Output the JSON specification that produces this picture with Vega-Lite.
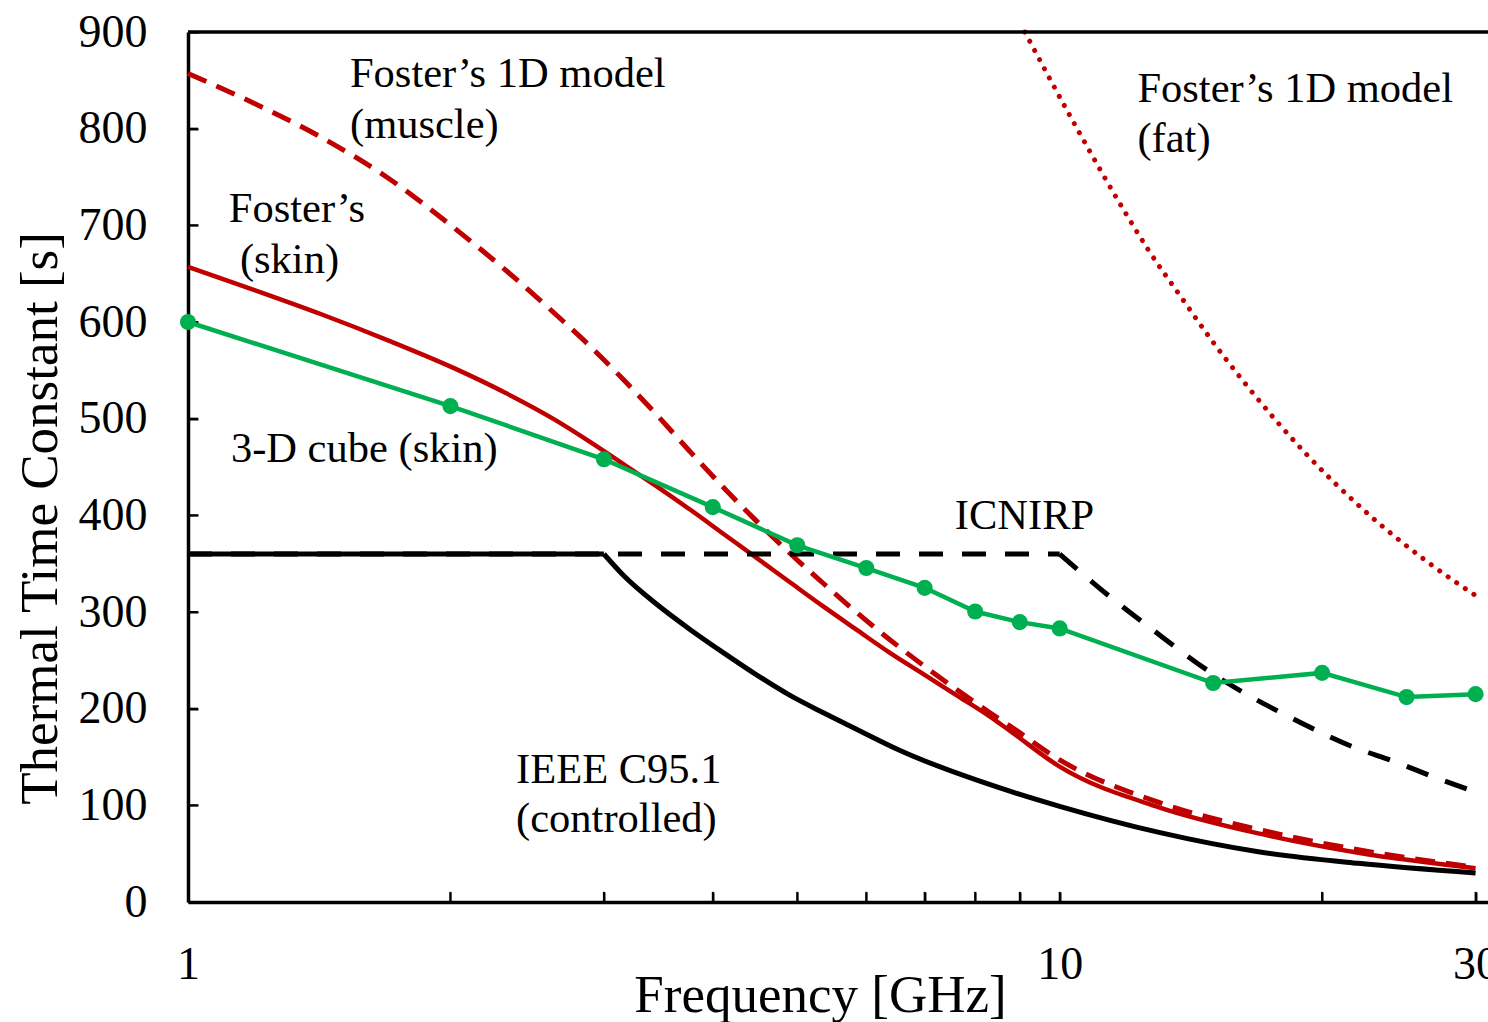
{
  "$schema": "https://vega.github.io/schema/vega-lite/v6.json",
  "width": 1300,
  "height": 870,
  "autosize": {"type": "none"},
  "padding": {"left": 188, "top": 32, "right": 0, "bottom": 120},
  "background": "white",
  "config": {"view": {"stroke": null}, "font": "Liberation Serif"},
  "datasets": {
    "fat": [
      {"f": 9.12, "v": 900}, {"f": 10.46, "v": 800.7}, {"f": 11.84, "v": 716}, {"f": 12.65, "v": 674},
      {"f": 13.8, "v": 625}, {"f": 14.86, "v": 584}, {"f": 16.3, "v": 537}, {"f": 19.2, "v": 463},
      {"f": 22.26, "v": 406.5}, {"f": 26.4, "v": 352}, {"f": 30, "v": 317}
    ],
    "muscle": [
      {"f": 1, "v": 857}, {"f": 1.192, "v": 826}, {"f": 1.422, "v": 791}, {"f": 1.696, "v": 749},
      {"f": 2.022, "v": 697}, {"f": 2.41, "v": 640}, {"f": 2.7, "v": 600}, {"f": 2.892, "v": 575},
      {"f": 3.158, "v": 540.5}, {"f": 3.449, "v": 504}, {"f": 3.766, "v": 466}, {"f": 4.112, "v": 429},
      {"f": 4.49, "v": 394}, {"f": 4.9, "v": 361}, {"f": 5.35, "v": 330}, {"f": 5.84, "v": 300},
      {"f": 6.38, "v": 271.6}, {"f": 6.97, "v": 245}, {"f": 7.61, "v": 220}, {"f": 8.31, "v": 196},
      {"f": 8.77, "v": 182}, {"f": 10, "v": 147}, {"f": 13.0, "v": 103}, {"f": 16.9, "v": 75},
      {"f": 22.0, "v": 54}, {"f": 30, "v": 36}
    ],
    "skin": [
      {"f": 1, "v": 657}, {"f": 1.192, "v": 633}, {"f": 1.422, "v": 608}, {"f": 1.696, "v": 581},
      {"f": 2.022, "v": 552}, {"f": 2.309, "v": 527}, {"f": 2.634, "v": 499}, {"f": 2.892, "v": 476},
      {"f": 3.158, "v": 453}, {"f": 3.449, "v": 430}, {"f": 3.766, "v": 406}, {"f": 4.112, "v": 381},
      {"f": 4.49, "v": 356}, {"f": 4.9, "v": 331}, {"f": 5.35, "v": 306}, {"f": 5.84, "v": 282},
      {"f": 6.38, "v": 258}, {"f": 6.97, "v": 236}, {"f": 7.61, "v": 214}, {"f": 8.31, "v": 192},
      {"f": 8.77, "v": 177}, {"f": 10, "v": 140}, {"f": 13.0, "v": 98}, {"f": 16.9, "v": 71},
      {"f": 22.0, "v": 51}, {"f": 30, "v": 35}
    ],
    "icnirpFlat": [
      {"f": 1, "v": 360}, {"f": 10, "v": 360}
    ],
    "icnirpCurve": [
      {"f": 10, "v": 360}, {"f": 11.43, "v": 315.5}, {"f": 12.71, "v": 283.4}, {"f": 14.76, "v": 240},
      {"f": 18.86, "v": 186}, {"f": 21.63, "v": 161}, {"f": 24.29, "v": 144.8}, {"f": 27.28, "v": 127},
      {"f": 30, "v": 113.8}
    ],
    "ieeeFlat": [
      {"f": 1, "v": 360}, {"f": 3, "v": 360}
    ],
    "ieeeCurve": [
      {"f": 3, "v": 360}, {"f": 3.158, "v": 338}, {"f": 3.449, "v": 308}, {"f": 3.766, "v": 282},
      {"f": 4.112, "v": 258}, {"f": 4.49, "v": 235}, {"f": 4.9, "v": 214}, {"f": 5.35, "v": 196},
      {"f": 5.84, "v": 179}, {"f": 6.55, "v": 157}, {"f": 8.54, "v": 118}, {"f": 10, "v": 99},
      {"f": 13.0, "v": 72}, {"f": 16.9, "v": 52}, {"f": 22.0, "v": 40}, {"f": 30, "v": 30}
    ],
    "cube": [
      {"f": 1, "v": 600}, {"f": 2, "v": 513}, {"f": 3, "v": 458}, {"f": 4, "v": 408.5},
      {"f": 5, "v": 369}, {"f": 6, "v": 345.5}, {"f": 7, "v": 325}, {"f": 8, "v": 300.5},
      {"f": 9, "v": 289.5}, {"f": 10, "v": 283}, {"f": 15, "v": 226.5}, {"f": 20, "v": 237},
      {"f": 25, "v": 212}, {"f": 30, "v": 215}
    ],
    "xticks": [
      {"f": 2}, {"f": 3}, {"f": 4}, {"f": 5}, {"f": 6}, {"f": 7}, {"f": 8}, {"f": 9}, {"f": 10}, {"f": 20}, {"f": 30}
    ],
    "yticks": [
      {"v": 100}, {"v": 200}, {"v": 300}, {"v": 400}, {"v": 500}, {"v": 600}, {"v": 700}, {"v": 800}
    ],
    "notes": [
      {"f": 1.534, "v": 843, "label": "Foster’s 1D model"},
      {"f": 1.534, "v": 790, "label": "(muscle)"},
      {"f": 1.114, "v": 703, "label": "Foster’s"},
      {"f": 1.147, "v": 651, "label": "(skin)"},
      {"f": 1.12, "v": 455, "label": "3-D cube (skin)"},
      {"f": 7.58, "v": 386, "label": "ICNIRP"},
      {"f": 2.379, "v": 123, "label": "IEEE C95.1"},
      {"f": 2.379, "v": 72.4, "label": "(controlled)"},
      {"f": 12.28, "v": 827.6, "label": "Foster’s 1D model"},
      {"f": 12.28, "v": 776, "label": "(fat)"}
    ]
  },
  "layer": [
    {
      "data": {"name": "fat"},
      "mark": {"type": "line", "color": "#C00000", "strokeWidth": 5, "strokeDash": [0.1, 10.3], "strokeCap": "round", "interpolate": "monotone"},
      "encoding": {
        "x": {
          "field": "f", "type": "quantitative",
          "scale": {"type": "log", "domain": [1, 31], "nice": false},
          "axis": {
            "title": "Frequency [GHz]",
            "values": [1, 2, 3, 4, 5, 6, 7, 8, 9, 10, 20, 30],
            "format": "d",
            "labelExpr": "datum.value == 1 || datum.value == 10 || datum.value == 30 ? datum.label : ''",
            "labelOverlap": false,
            "labelFlush": false,
            "grid": false,
            "ticks": true,
            "tickSize": -10,
            "tickWidth": 2,
            "tickColor": "black",
            "domainColor": "black",
            "domainWidth": 3.5,
            "labelFont": "Liberation Serif",
            "labelFontSize": 46,
            "labelColor": "black",
            "labelPadding": 50,
            "titleFont": "Liberation Serif",
            "titleFontSize": 53,
            "titleFontWeight": "normal",
            "titleColor": "black",
            "titleX": 632,
            "titleY": 93,
            "titleAlign": "center",
            "titleBaseline": "middle"
          }
        },
        "y": {
          "field": "v", "type": "quantitative",
          "scale": {"domain": [0, 900], "nice": false},
          "axis": {
            "title": "Thermal Time Constant [s]",
            "values": [0, 100, 200, 300, 400, 500, 600, 700, 800, 900],
            "grid": false,
            "ticks": true,
            "tickSize": -10,
            "tickWidth": 2,
            "tickColor": "black",
            "domainColor": "black",
            "domainWidth": 3.5,
            "labelFont": "Liberation Serif",
            "labelFontSize": 46,
            "labelColor": "black",
            "labelPadding": 51,
            "labelOverlap": false,
            "labelFlush": false,
            "titleFont": "Liberation Serif",
            "titleFontSize": 53,
            "titleFontWeight": "normal",
            "titleColor": "black",
            "titleAngle": -90,
            "titleX": -148,
            "titleY": 486,
            "titleAlign": "center",
            "titleBaseline": "middle"
          }
        }
      }
    },
    {
      "data": {"name": "xticks"},
      "mark": {"type": "rule", "color": "black", "strokeWidth": 2},
      "encoding": {
        "x": {"field": "f", "type": "quantitative"},
        "y": {"datum": 0},
        "y2": {"datum": 10.5}
      }
    },
    {
      "data": {"name": "yticks"},
      "mark": {"type": "rule", "color": "black", "strokeWidth": 2},
      "encoding": {
        "y": {"field": "v", "type": "quantitative"},
        "x": {"datum": 1},
        "x2": {"datum": 1.027}
      }
    },
    {
      "data": {"name": "muscle"},
      "mark": {"type": "line", "color": "#C00000", "strokeWidth": 5, "strokeDash": [20, 11], "interpolate": "monotone"},
      "encoding": {"x": {"field": "f", "type": "quantitative"}, "y": {"field": "v", "type": "quantitative"}}
    },
    {
      "data": {"name": "skin"},
      "mark": {"type": "line", "color": "#C00000", "strokeWidth": 4.5, "interpolate": "monotone"},
      "encoding": {"x": {"field": "f", "type": "quantitative"}, "y": {"field": "v", "type": "quantitative"}}
    },
    {
      "data": {"name": "icnirpFlat"},
      "mark": {"type": "line", "color": "black", "strokeWidth": 5, "strokeDash": [24, 19]},
      "encoding": {"x": {"field": "f", "type": "quantitative"}, "y": {"field": "v", "type": "quantitative"}}
    },
    {
      "data": {"name": "icnirpCurve"},
      "mark": {"type": "line", "color": "black", "strokeWidth": 5, "strokeDash": [23, 18], "interpolate": "monotone"},
      "encoding": {"x": {"field": "f", "type": "quantitative"}, "y": {"field": "v", "type": "quantitative"}}
    },
    {
      "data": {"name": "ieeeFlat"},
      "mark": {"type": "line", "color": "black", "strokeWidth": 5},
      "encoding": {"x": {"field": "f", "type": "quantitative"}, "y": {"field": "v", "type": "quantitative"}}
    },
    {
      "data": {"name": "ieeeCurve"},
      "mark": {"type": "line", "color": "black", "strokeWidth": 5, "interpolate": "monotone"},
      "encoding": {"x": {"field": "f", "type": "quantitative"}, "y": {"field": "v", "type": "quantitative"}}
    },
    {
      "data": {"name": "cube"},
      "mark": {"type": "line", "color": "#00B050", "strokeWidth": 4.5},
      "encoding": {"x": {"field": "f", "type": "quantitative"}, "y": {"field": "v", "type": "quantitative"}}
    },
    {
      "data": {"name": "cube"},
      "mark": {"type": "point", "shape": "circle", "filled": true, "color": "#00B050", "size": 260, "opacity": 1},
      "encoding": {"x": {"field": "f", "type": "quantitative"}, "y": {"field": "v", "type": "quantitative"}}
    },
    {
      "data": {"name": "notes"},
      "mark": {"type": "text", "align": "left", "baseline": "alphabetic", "font": "Liberation Serif", "fontSize": 42.5, "color": "black"},
      "encoding": {
        "x": {"field": "f", "type": "quantitative"},
        "y": {"field": "v", "type": "quantitative"},
        "text": {"field": "label", "type": "nominal"}
      }
    },
    {
      "data": {"values": [{}]},
      "mark": {"type": "rule", "color": "black", "strokeWidth": 3.5},
      "encoding": {"y": {"datum": 900}}
    }
  ]
}
